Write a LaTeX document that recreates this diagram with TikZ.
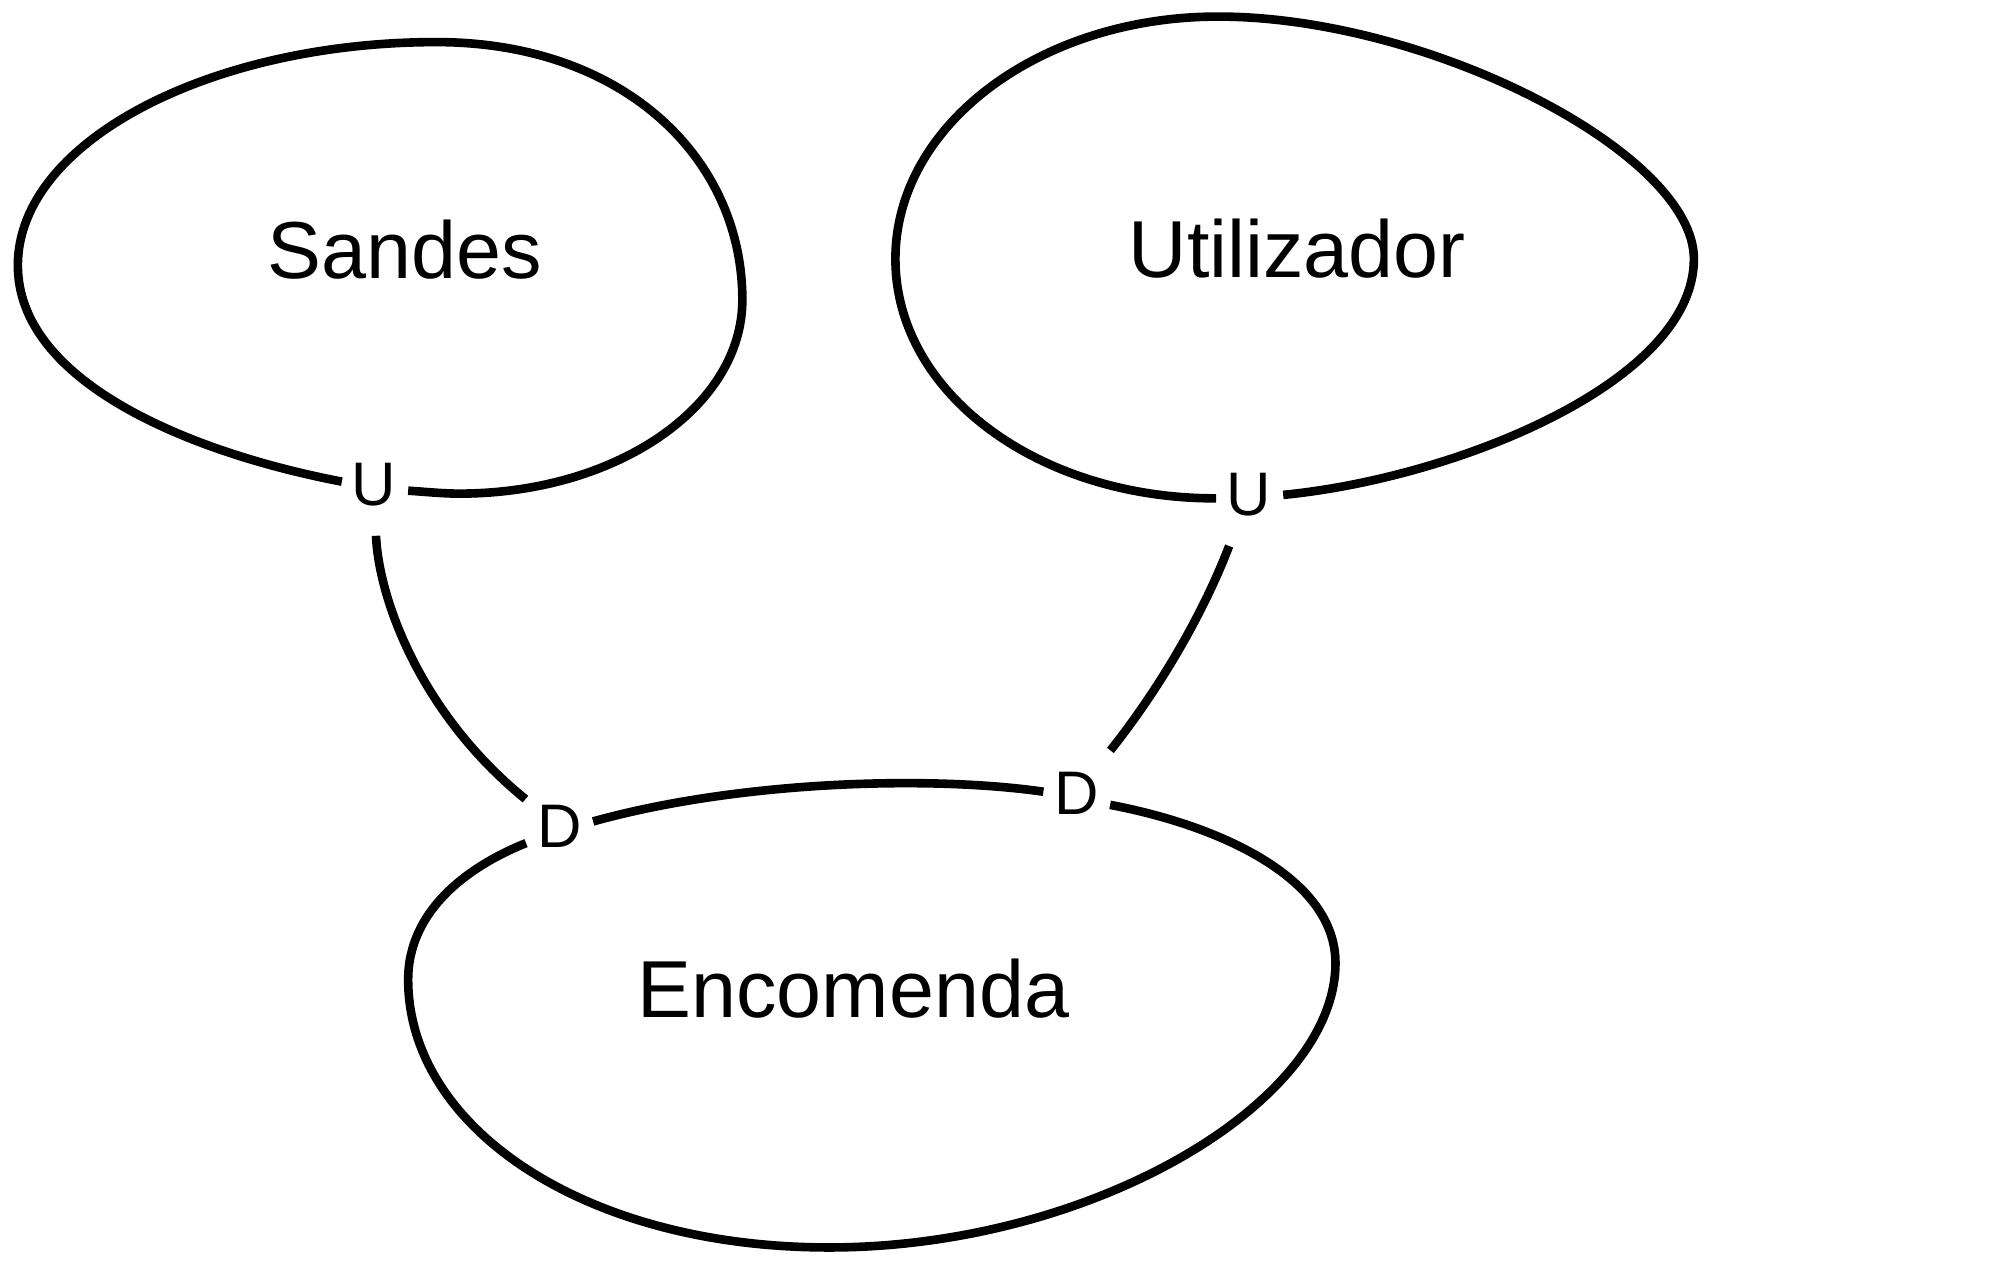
\documentclass[tikz,border=0pt]{standalone}
\usepackage{fontspec}
\setmainfont{Liberation Sans}
\begin{document}
\begin{tikzpicture}[x=0.012755cm,y=-0.012755cm,
  blob/.style={line width=2.45pt,line cap=butt},
  conn/.style={line width=2.45pt,line cap=butt},
  ename/.style={font=\fontsize{23pt}{27pt}\selectfont,inner sep=0pt,anchor=base},
  card/.style={font=\fontsize{17.5pt}{20pt}\selectfont,inner sep=0pt,minimum width=0.663cm,minimum height=1.008cm}]
\useasboundingbox (0,0) rectangle (1568,995);
% entity names
\node[ename] (sandes) at (317.5,218) {Sandes};
\node[ename] (util) at (1017,217.5) {Utilizador};
\node[ename] (enc) at (669,798) {Encomenda};
% cardinality labels
\node[card] (uS) at (293,380) {U};
\node[card] (uU) at (979,388) {U};
\node[card] (dL) at (438.5,648) {D};
\node[card] (dR) at (844,621.7) {D};
% Sandes outline
\draw[blob] (268,377.6) .. controls (150,355) and (14,300) .. (14,208)
  .. controls (14,111) and (165,33) .. (342,33)
  .. controls (490,33) and (582,125) .. (582,235)
  .. controls (582,319) and (483,387) .. (360,387)
  .. controls (347,387) and (333,385.5) .. (320,384.7);
% Utilizador outline
\draw[blob] (1006,388) .. controls (1140,375) and (1328,300) .. (1328,203)
  .. controls (1328,120) and (1120,13) .. (955,13)
  .. controls (815,13) and (702,98) .. (702,203)
  .. controls (702,308) and (814,391) .. (953.4,390.7);
% Encomenda outline
\draw[blob] (465,644) .. controls (580,612) and (730,608) .. (818,620.7);
\draw[blob] (870.3,631) .. controls (960,648) and (1047,690) .. (1047,755)
  .. controls (1047,865) and (855,978) .. (650,978)
  .. controls (458,978) and (320,884) .. (320,768)
  .. controls (320,715) and (365,680) .. (412.4,661);
% connectors
\draw[conn] (uS) .. controls (297,470) and (330,560) .. (dL);
\draw[conn] (uU) .. controls (941,487) and (905,545) .. (dR);
\end{tikzpicture}
\end{document}
